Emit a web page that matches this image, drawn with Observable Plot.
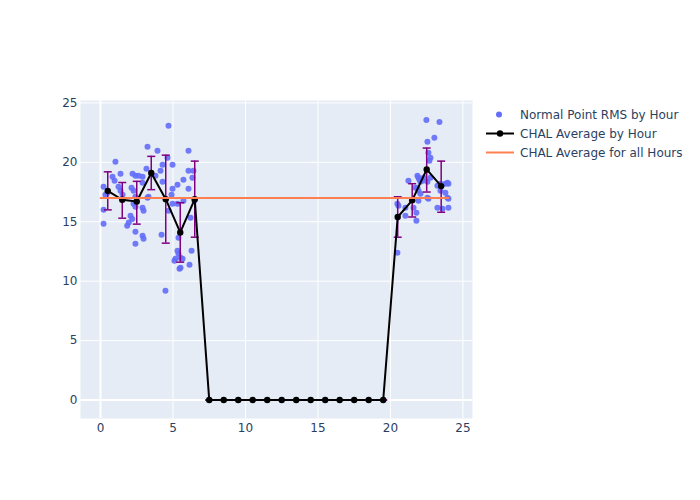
<!DOCTYPE html>
<html>
<head>
<meta charset="utf-8">
<script src="https://cdn.jsdelivr.net/npm/d3@7"></script>
<script src="https://cdn.jsdelivr.net/npm/@observablehq/plot@0.6"></script>
<style>
  html, body { margin: 0; padding: 0; background: #fff; }
  #wrap { position: relative; width: 700px; height: 500px; font-family: "DejaVu Sans", sans-serif; }
  #legend { position: absolute; left: 484px; top: 105px; font-size: 12px; color: #2a3f5f; }
  .item { display: flex; align-items: center; height: 19px; }
  .item svg { width: 34px; height: 19px; margin-right: 2px; }
</style>
</head>
<body>
<div id="wrap">
  <div id="chart"></div>
  <div id="legend">
    <div class="item"><svg><circle cx="15" cy="9.5" r="3" fill="#636efa"></circle></svg><span>Normal Point RMS by Hour</span></div>
    <div class="item"><svg><line x1="2" x2="30" y1="9.5" y2="9.5" stroke="#000" stroke-width="2"></line><circle cx="16" cy="9.5" r="3.2" fill="#000"></circle></svg><span>CHAL Average by Hour</span></div>
    <div class="item"><svg><line x1="2" x2="30" y1="9.5" y2="9.5" stroke="#ff7f50" stroke-width="2"></line></svg><span>CHAL Average for all Hours</span></div>
  </div>
</div>
<script>
// Normal point RMS by hour (scatter)
const pointHour = [
  0.21,0.21,0.21,0.34,0.48,0.83,0.97,1.03,1.38,1.38,1.52,1.24,1.84,1.95,2.07,2.19,2.14,2.21,2.28,2.41,
  2.28,2.41,2.41,2.41,2.41,2.62,2.90,2.90,2.90,2.97,2.90,2.97,3.17,3.24,3.24,3.31,3.79,3.93,4.14,4.21,
  4.28,4.28,4.48,4.62,4.69,4.69,4.90,4.97,4.97,4.97,5.10,5.17,5.31,5.31,5.31,5.38,5.38,5.45,5.52,5.52,
  5.66,5.72,5.72,6.07,6.07,6.07,6.14,6.21,6.28,6.34,6.41,6.48,
  20.48,20.48,20.55,21.03,21.03,21.24,21.59,21.72,21.79,21.79,21.86,21.86,21.93,21.93,21.93,22.00,22.07,22.07,
  22.21,22.28,22.48,22.55,22.55,22.55,22.62,22.62,22.69,22.76,22.76,23.03,23.24,23.24,23.38,23.45,23.45,23.59,
  23.79,23.79,23.93,23.93,24.00,24.00,24.00
];
const pointRms = [
  17.94,16.01,14.83,17.27,17.44,18.78,18.45,20.04,19.03,17.61,17.27,17.94,14.66,14.94,15.50,15.23,17.86,19.03,17.61,17.10,
  16.51,16.26,18.87,14.16,13.15,18.87,18.78,18.28,16.18,15.92,13.82,13.57,19.45,21.30,17.02,17.10,18.87,20.97,19.29,13.91,
  19.79,18.36,9.20,20.38,23.07,15.92,17.27,19.79,17.77,16.51,11.72,11.89,12.56,18.11,16.51,13.66,12.31,11.05,11.13,11.97,
  11.89,16.76,18.53,20.97,19.29,17.77,11.39,15.34,12.56,18.70,19.29,16.76,
  12.39,16.51,16.34,16.18,15.50,18.45,16.18,17.86,15.76,15.08,18.87,17.86,18.70,17.61,16.76,18.53,18.36,17.35,
  18.45,18.70,23.57,21.72,18.36,17.02,20.80,16.93,20.13,20.38,18.70,22.06,18.03,16.18,23.40,18.19,17.61,16.09,
  18.19,17.44,18.28,17.02,18.19,16.93,16.18
];

// CHAL average by hour with error bars
const avgHour = [0.5,1.5,2.5,3.5,4.5,5.5,6.5,7.5,8.5,9.5,10.5,11.5,12.5,13.5,14.5,15.5,16.5,17.5,18.5,19.5,20.5,21.5,22.5,23.5];
const avgValue = [17.6,16.85,16.7,19.1,16.9,14.1,16.9,0,0,0,0,0,0,0,0,0,0,0,0,0,15.4,16.8,19.4,18.0];
const errUpper = [19.2,18.3,18.4,20.5,20.6,16.6,20.1,0,0,0,0,0,0,0,0,0,0,0,0,0,17.1,18.2,21.2,20.1];
const errLower = [16.0,15.3,14.8,17.7,13.2,11.6,13.7,0,0,0,0,0,0,0,0,0,0,0,0,0,13.7,15.4,17.5,15.8];

// CHAL average for all hours
const overallHours = [0, 24];
const overallValue = 17.0;

const xTicks = [0,5,10,15,20,25];
const yTicks = [0,5,10,15,20,25];

const points = pointHour.map((h, i) => ({hour: h, rms: pointRms[i]}));
const avg = avgHour.map((h, i) => ({hour: h, value: avgValue[i], hi: errUpper[i], lo: errLower[i]}));
const overall = overallHours.map(h => ({hour: h, value: overallValue}));
const caps = avg.flatMap(d => [{hour: d.hour, y: d.hi}, {hour: d.hour, y: d.lo}]);

const capSymbol = {
  draw(context, size) {
    const w = Math.sqrt(size / Math.PI);
    context.moveTo(-w, 0);
    context.lineTo(w, 0);
  }
};

const chart = Plot.plot({
  width: 700,
  height: 500,
  marginLeft: 80,
  marginRight: 228,
  marginTop: 100,
  marginBottom: 82,
  style: {fontFamily: "'DejaVu Sans', sans-serif", fontSize: "12px", color: "#2a3f5f", background: "transparent"},
  x: {domain: [-1.38, 25.66], ticks: xTicks},
  y: {domain: [-1.55, 25.2], ticks: yTicks},
  marks: [
    Plot.frame({fill: "#E5ECF6", stroke: null}),
    Plot.gridX(xTicks, {stroke: "white", strokeOpacity: 1, strokeWidth: 1}),
    Plot.gridY(yTicks, {stroke: "white", strokeOpacity: 1, strokeWidth: 1}),
    Plot.ruleX([0], {stroke: "white", strokeWidth: 2}),
    Plot.ruleY([0], {stroke: "white", strokeWidth: 2}),
    Plot.axisX(xTicks, {tickSize: 0, tickPadding: 5, fill: "#2a3f5f", label: null}),
    Plot.axisY(yTicks, {tickSize: 0, tickPadding: 3, fill: "#2a3f5f", label: null}),
    Plot.dot(points, {x: "hour", y: "rms", r: 3, fill: "#636efa", fillOpacity: 0.9, stroke: null}),
    Plot.ruleX(avg, {x: "hour", y1: "lo", y2: "hi", stroke: "#800080", strokeWidth: 1.5}),
    Plot.dot(caps, {x: "hour", y: "y", r: 4, symbol: capSymbol, stroke: "#800080", strokeWidth: 1.5, fill: "none"}),
    Plot.line(avg, {x: "hour", y: "value", stroke: "#000", strokeWidth: 2}),
    Plot.dot(avg, {x: "hour", y: "value", r: 3.2, fill: "#000", stroke: null}),
    Plot.line(overall, {x: "hour", y: "value", stroke: "#ff7f50", strokeWidth: 2})
  ]
});
document.getElementById("chart").appendChild(chart);
</script>
</body>
</html>
